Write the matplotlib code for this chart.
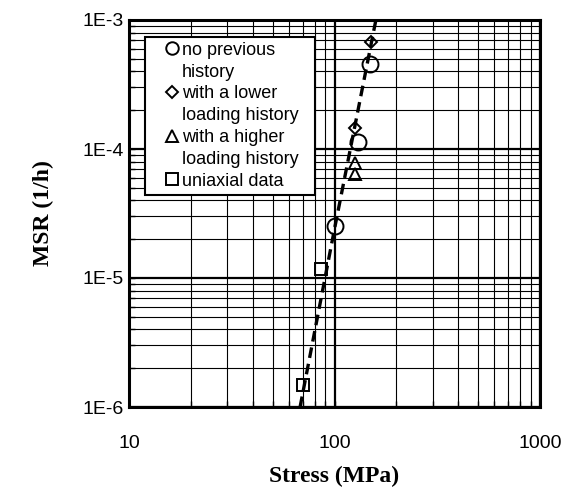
import matplotlib.pyplot as plt
import matplotlib.ticker as mticker
from matplotlib.patches import Rectangle
import numpy as np

# creep data: stress (MPa) vs minimum strain rate (1/h)
no_hist_stress = [100, 130, 149]
no_hist_msr = [2.55e-5, 1.13e-4, 4.6e-4]

lower_hist_stress = [126, 150]
lower_hist_msr = [1.46e-4, 6.7e-4]

higher_hist_stress = [126, 126]
higher_hist_msr = [7.8e-5, 6.4e-5]

uniaxial_stress = [70, 85.7]
uniaxial_msr = [1.48e-6, 1.17e-5]

# power-law fit
fit_stress = [68, 100, 159]
fit_msr = [1.0e-6, 2.4e-5, 1.0e-3]

legend_labels = [['no previous', 'history'],
                 ['with a lower', 'loading history'],
                 ['with a higher', 'loading history'],
                 ['uniaxial data']]

plt.rcParams['font.family'] = ['Liberation Sans', 'DejaVu Sans']

W, H = 571, 492
fig = plt.figure(figsize=(W / 100, H / 100), dpi=100)
ax = fig.add_axes([129 / W, 1 - 407 / H, 411 / W, 387 / H])

ax.set_xscale('log')
ax.set_yscale('log')
ax.set_xlim(10, 1000)
ax.set_ylim(1e-6, 1e-3)

ax.grid(True, which='major', color='black', linewidth=1.6)
ax.grid(True, which='minor', color='black', linewidth=0.8)
ax.set_axisbelow(True)

ax.plot(fit_stress, fit_msr, color='black', linewidth=2.4, dashes=(3.2, 1.8), zorder=3)

mk = dict(linestyle='none', markerfacecolor='none', markeredgecolor='black',
          markeredgewidth=1.4, zorder=4)
ax.plot(no_hist_stress, no_hist_msr, marker='o', markersize=11.5, **mk)
ax.plot(lower_hist_stress, lower_hist_msr, marker='D', markersize=6.5, **mk)
ax.plot(higher_hist_stress, higher_hist_msr, marker='^', markersize=9, **mk)
ax.plot(uniaxial_stress, uniaxial_msr, marker='s', markersize=8.5, **mk)

ax.xaxis.set_major_formatter(mticker.FuncFormatter(lambda v, p: f"{v:g}"))
ax.yaxis.set_major_formatter(mticker.FuncFormatter(
    lambda v, p: f"1E{int(round(np.log10(v)))}"))
ax.xaxis.set_minor_formatter(mticker.NullFormatter())
ax.yaxis.set_minor_formatter(mticker.NullFormatter())

ax.tick_params(which='both', direction='in', length=4, width=1, colors='black',
               labelsize=14)
ax.tick_params(axis='y', which='major', pad=4)
ax.tick_params(axis='x', which='major', pad=20)
for s in ax.spines.values():
    s.set_linewidth(2.2)

ax.set_xlabel('Stress (MPa)', family='Liberation Serif', fontweight='bold',
              fontsize=17, labelpad=10)
ax.set_ylabel('MSR (1/h)', family='Liberation Serif', fontweight='bold',
              fontsize=17, labelpad=20)

# legend box drawn by hand so each marker sits on the first line of its label
def px(x, y):
    return x / W, 1 - y / H

x0, y0 = px(145, 195)
x1, y1 = px(315, 37)
fig.patches.append(Rectangle((x0, y0), x1 - x0, y1 - y0, transform=fig.transFigure,
                             facecolor='white', edgecolor='black', linewidth=1.5,
                             zorder=5))
leg_markers = [('o', 9.0), ('D', 6.5), ('^', 8.0), ('s', 8.5)]
line_y = 48.3
step = 21.8
for (m, ms), lines in zip(leg_markers, legend_labels):
    mx, my = px(172, line_y)
    fig.add_artist(plt.Line2D([mx], [my], marker=m, markersize=ms,
                              markerfacecolor='none', markeredgecolor='black',
                              markeredgewidth=1.4, transform=fig.transFigure,
                              zorder=6))
    for ln in lines:
        tx, ty = px(182, line_y)
        fig.text(tx, ty, ln, fontsize=13, ha='left', va='center_baseline',
                 zorder=6)
        line_y += step

fig.savefig('out.png', dpi=100, facecolor='white')
